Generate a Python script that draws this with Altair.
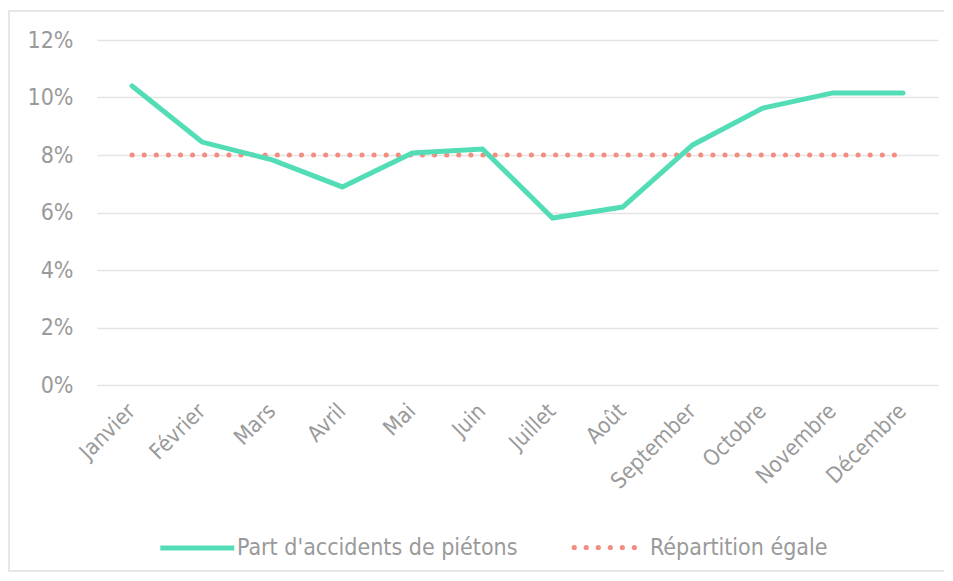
import altair as alt
import pandas as pd

months = ["Janvier", "Février", "Mars", "Avril", "Mai", "Juin", "Juillet",
          "Août", "September", "Octobre", "Novembre", "Décembre"]
part_pietons = [0.104, 0.0845, 0.0783, 0.0689, 0.0807, 0.0821, 0.0581,
                0.0619, 0.0835, 0.0963, 0.1016, 0.1016]
repartition = [0.08] * 12
series_names = ["Part d'accidents de piétons", "Répartition égale"]
colors = ["#52DDB7", "#F28E80"]

df_a = pd.DataFrame({"mois": months, "valeur": part_pietons, "serie": series_names[0]})
df_b = pd.DataFrame({"mois": months, "valeur": repartition, "serie": series_names[1]})

FONT = "DejaVu Sans Condensed, Liberation Sans, sans-serif"
GRAY = "#9a9a9a"
FS = 23

# legend symbol shapes (unit coords scaled by sqrt(symbolSize)/2)
line_symbol = "M-7,0H1"
dot_symbol = "".join(
    f"M{cx - 0.12:.2f},0a0.12,0.12 0 1,0 0.24,0a0.12,0.12 0 1,0 -0.24,0Z"
    for cx in [-6.3, -5.0, -3.7, -2.4, -1.1, 0.2]
)

common = dict(title=None, orient="none", direction="horizontal", legendY=496,
              symbolSize=342, labelFont=FONT, labelFontSize=FS, labelColor=GRAY,
              labelLimit=0)

x_enc = alt.X("mois:N", sort=months, scale=alt.Scale(paddingInner=0, paddingOuter=0.5),
              axis=alt.Axis(title=None, labelAngle=-45, labelFont=FONT, labelFontSize=22,
                            labelColor=GRAY, ticks=False, domain=False, labelPadding=15,
                            labelOffset=-8, grid=False, labelLimit=0))
y_enc = alt.Y("valeur:Q", scale=alt.Scale(domain=[0, 0.12]),
              axis=alt.Axis(title=None, format=".0%", values=[0, 0.02, 0.04, 0.06, 0.08, 0.10, 0.12],
                            labelFont=FONT, labelFontSize=FS, labelColor=GRAY,
                            ticks=False, domain=False, labelPadding=24,
                            gridColor="#e4e4e4", gridWidth=1.5))

frame = alt.Chart(pd.DataFrame({"a": [0]})).mark_rect(
    fill=None, stroke="#e0e0e0", strokeWidth=1.5
).encode(
    x=alt.value(-88), x2=alt.value(848),
    y=alt.value(-29), y2=alt.value(531),
)

dotted = alt.Chart(df_b).mark_line(strokeWidth=5, strokeCap="round", strokeDash=[0.1, 12]).encode(
    x=x_enc, y=y_enc,
    color=alt.Color("serie:N", scale=alt.Scale(domain=[series_names[1]], range=[colors[1]]),
                    legend=alt.Legend(**common, legendX=524, symbolType=dot_symbol,
                                      symbolStrokeWidth=3, symbolFillColor=colors[1],
                                      symbolDash=[1000, 0], labelOffset=6)),
)

green = alt.Chart(df_a).mark_line(strokeWidth=5, strokeCap="round", strokeJoin="miter").encode(
    x=x_enc, y=y_enc,
    color=alt.Color("serie:N", scale=alt.Scale(domain=[series_names[0]], range=[colors[0]]),
                    legend=alt.Legend(**common, legendX=116, symbolType=line_symbol,
                                      symbolStrokeWidth=5, labelOffset=0)),
)

chart = alt.layer(frame, dotted, green).resolve_scale(color="independent").properties(
    width=841, height=345,
    padding={"left": 89, "top": 32, "right": 6, "bottom": 188},
    autosize=alt.AutoSizeParams(type="none"),
).configure_view(stroke=None)

chart.save("out.html", embed_options={"renderer": "svg", "actions": False})
